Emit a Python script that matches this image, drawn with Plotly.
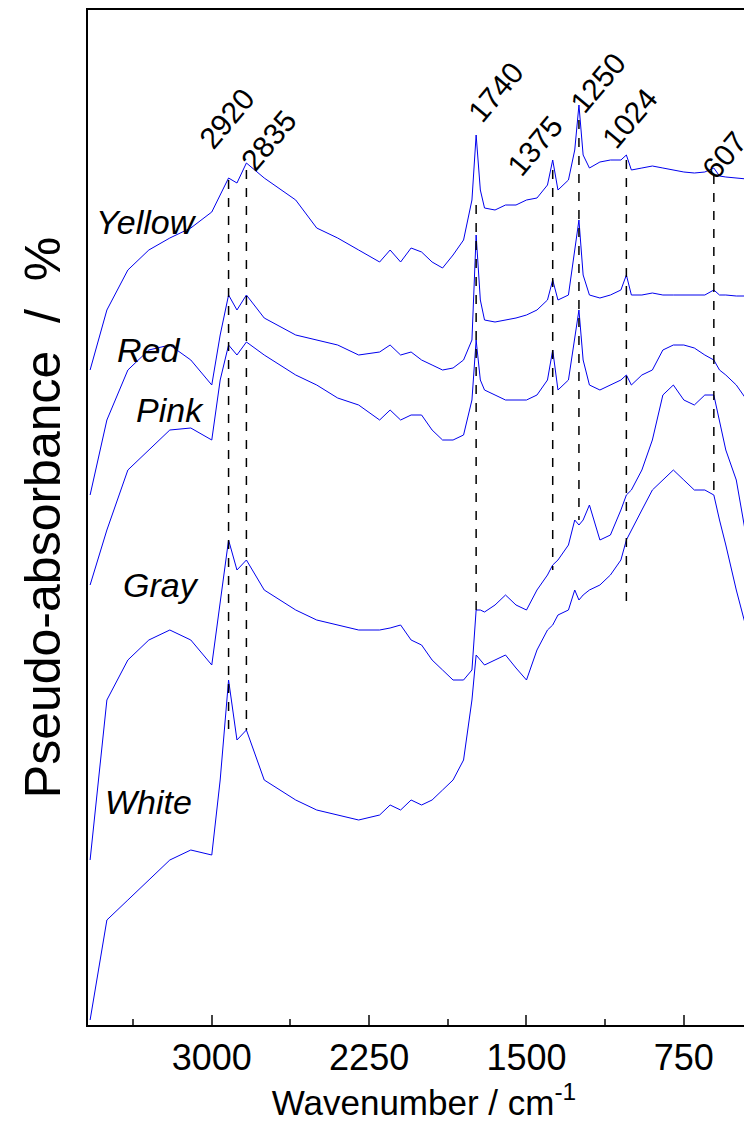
import plotly.graph_objects as go

# wavenumber grid (cm-1)
wavenumber = [3580, 3500, 3400, 3300, 3200, 3100, 3000, 2960, 2920, 2880, 2835, 2750, 2600, 2500,
              2400, 2300, 2200, 2150, 2100, 2050, 2000, 1950, 1900, 1850, 1800, 1760, 1740, 1720,
              1700, 1650, 1600, 1550, 1500, 1450, 1400, 1375, 1350, 1300, 1270, 1250, 1230, 1200,
              1150, 1100, 1050, 1024, 1000, 950, 900, 850, 800, 750, 700, 650, 607, 580, 550, 500,
              450, 400]

yellow = [370, 310, 270, 250, 238, 228, 212, 195, 178, 183, 163, 178, 200, 228, 238, 250, 262, 250,
          262, 248, 252, 262, 268, 255, 240, 200, 135, 190, 208, 210, 205, 205, 200, 198, 185, 160,
          190, 180, 150, 105, 155, 168, 162, 160, 160, 155, 170, 168, 166, 168, 170, 172, 173, 172,
          168, 176, 177, 178, 179, 180]
red = [495, 420, 370, 350, 345, 360, 385, 335, 295, 310, 295, 318, 335, 340, 345, 355, 352, 345,
       355, 352, 360, 365, 370, 368, 360, 340, 235, 300, 320, 322, 320, 318, 315, 310, 300, 280,
       300, 295, 250, 220, 275, 295, 298, 295, 290, 275, 295, 295, 293, 295, 295, 295, 295, 295,
       290, 295, 295, 296, 296, 298]
pink = [585, 530, 470, 450, 430, 428, 440, 380, 345, 355, 342, 355, 375, 385, 398, 405, 420, 410,
        420, 415, 415, 430, 440, 440, 435, 400, 340, 380, 390, 395, 400, 400, 400, 395, 380, 350,
        390, 380, 340, 310, 360, 385, 390, 385, 380, 375, 385, 375, 370, 350, 345, 345, 348, 355,
        360, 370, 375, 385, 400, 445]
gray = [860, 700, 660, 640, 630, 640, 665, 600, 540, 570, 560, 590, 610, 620, 625, 630, 630, 628,
        625, 640, 645, 660, 670, 680, 680, 670, 610, 610, 612, 605, 595, 605, 610, 590, 575, 565,
        560, 545, 520, 525, 520, 505, 540, 535, 510, 495, 490, 470, 440, 395, 385, 400, 405, 395,
        395, 420, 450, 480, 540, 575]
white = [1020, 920, 900, 880, 860, 850, 855, 780, 680, 740, 730, 780, 800, 810, 815, 820, 815, 805,
         810, 800, 805, 800, 790, 780, 760, 700, 655, 660, 665, 660, 655, 668, 680, 650, 630, 625,
         615, 610, 590, 600, 595, 590, 585, 575, 560, 540, 530, 510, 490, 480, 470, 480, 490, 490,
         495, 520, 545, 590, 630, 655]

names = ["Yellow", "Red", "Pink", "Gray", "White"]
series = [yellow, red, pink, gray, white]
label_wn = [3310, 3300, 3200, 3240, 3300]
label_depth = [222, 350, 410, 585, 802]

peak_labels = ["2920", "2835", "1740", "1375", "1250", "1024", "607"]
peak_wn = [2920, 2835, 1740, 1375, 1250, 1024, 607]
peak_text_wn = [2930, 2730, 1650, 1460, 1160, 1010, 560]
peak_text_depth = [118, 140, 92, 145, 82, 118, 155]
line_top = [180, 170, 205, 170, 120, 160, 175]
line_bottom = [730, 730, 610, 570, 520, 605, 490]

TOP = 1025


def absorb(d):
    return (TOP - d) / 100


fig = go.Figure()
for name, vals in zip(names, series):
    fig.add_trace(go.Scatter(x=wavenumber, y=[absorb(v) for v in vals], mode="lines",
                             line=dict(color="#0000ee", width=1), name=name, showlegend=False))

for wn, top, bot in zip(peak_wn, line_top, line_bottom):
    fig.add_shape(type="line", x0=wn, x1=wn, y0=absorb(top), y1=absorb(bot),
                  line=dict(color="black", width=1.5, dash="dash"))

for name, wn, d in zip(names, label_wn, label_depth):
    fig.add_annotation(x=wn, y=absorb(d), text="<i>%s</i>" % name, showarrow=False,
                       font=dict(size=34, color="black"))

for txt, wn, d in zip(peak_labels, peak_text_wn, peak_text_depth):
    fig.add_annotation(x=wn, y=absorb(d), text=txt, showarrow=False, textangle=-50,
                       font=dict(size=30, color="black"))

fig.update_layout(
    width=752, height=1122,
    margin=dict(l=80, r=0, t=2, b=105),
    plot_bgcolor="white", paper_bgcolor="white",
    font=dict(family="Liberation Sans, Arial", color="black"),
    xaxis=dict(range=[3590, 387], tickvals=[3000, 2250, 1500, 750], ticks="inside",
               ticklen=10, tickwidth=2, showgrid=False, zeroline=False, showline=True,
               linecolor="black", linewidth=2, mirror=True,
               minor=dict(tickvals=[3375, 2625, 1875, 1125], ticks="inside", ticklen=6, tickwidth=2),
               tickfont=dict(size=36),
               title=dict(text="Wavenumber / cm<sup>-1</sup>", font=dict(size=35), standoff=12)),
    yaxis=dict(range=[0, absorb(10)], showticklabels=False, ticks="", showgrid=False,
               zeroline=False, showline=True, linecolor="black", linewidth=2,
               title=dict(text="Pseudo-absorbance  /  %", font=dict(size=50), standoff=10)),
)

fig.write_html("out.html")
